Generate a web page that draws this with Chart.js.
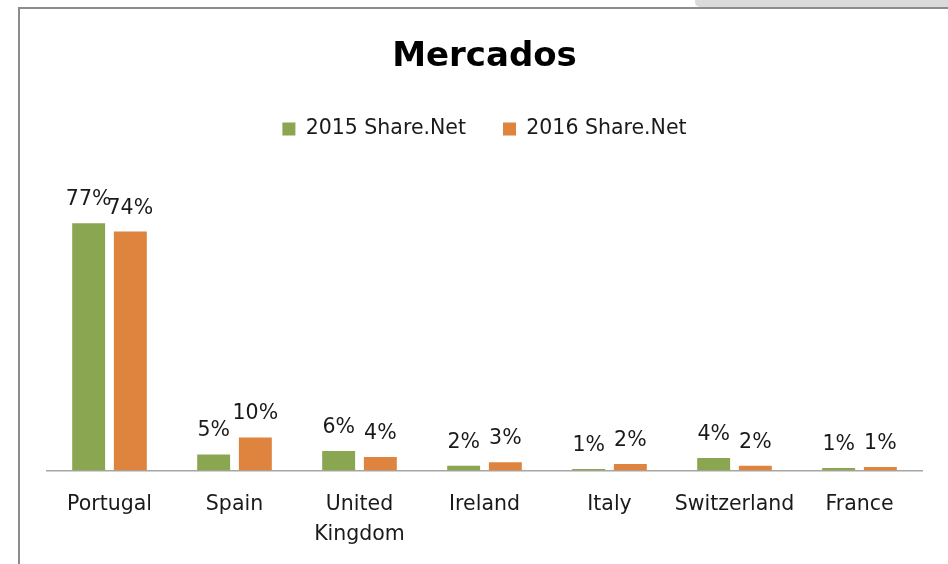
<!DOCTYPE html>
<html lang="pt">
<head>
  <meta charset="UTF-8" />
  <title>Mercados</title>
  <script src="https://cdn.jsdelivr.net/npm/chart.js"></script>
  <style>
    body { margin: 0; background: #fff; }
    #wrap { position: relative; width: 948px; height: 564px; overflow: hidden; }
    #tab { position: absolute; left: 695px; top: 0; width: 260px; height: 7px; background: #dadada; border-bottom-left-radius: 5px; }
    #frame { position: absolute; left: 18px; top: 7px; width: 960px; height: 600px; border-top: 2px solid #8c8c8c; border-left: 2px solid #8c8c8c; }
    canvas { position: absolute; left: 0; top: 0; }
  </style>
</head>
<body>
  <div id="wrap">
    <div id="tab"></div>
    <div id="frame"></div>
    <canvas id="chart" width="948" height="564"></canvas>
  </div>

  <script>
    const categories = ['Portugal', 'Spain', ['United', 'Kingdom'], 'Ireland', 'Italy', 'Switzerland', 'France'];
    const share2015 = [77.0, 5.0, 6.1, 1.5, 0.5, 3.9, 0.8];
    const share2016 = [74.4, 10.3, 4.2, 2.6, 2.0, 1.5, 1.1];
    const seriesNames = ['2015 Share.Net', '2016 Share.Net'];

    const fontFamily = "'DejaVu Sans', sans-serif";
    const textColor = '#1a1a1a';
    const tickPadding = 19.6;
    const tickLineHeight = 29.7;

    // percentage labels above each bar
    const barLabels = {
      id: 'barLabels',
      afterDatasetsDraw(chart) {
        const ctx = chart.ctx;
        ctx.save();
        ctx.font = `20.5px ${fontFamily}`;
        ctx.fillStyle = textColor;
        ctx.textAlign = 'center';
        ctx.textBaseline = 'alphabetic';
        chart.data.datasets.forEach((ds, i) => {
          chart.getDatasetMeta(i).data.forEach((bar, j) => {
            ctx.fillText(Math.round(ds.data[j]) + '%', bar.x, bar.y - 18);
          });
        });
        ctx.restore();
      }
    };

    new Chart(document.getElementById('chart'), {
      type: 'bar',
      data: {
        labels: categories,
        datasets: [
          { label: seriesNames[0], data: share2015, backgroundColor: '#8aa650' },
          { label: seriesNames[1], data: share2016, backgroundColor: '#de843e' }
        ]
      },
      options: {
        responsive: false,
        animation: false,
        layout: { padding: { left: 47, right: 26, top: 10, bottom: 14.5 } },
        datasets: {
          bar: { categoryPercentage: 0.667, barPercentage: 0.79 }
        },
        scales: {
          x: {
            grid: { display: false, drawTicks: false },
            border: { display: true, color: '#a6a6a6', width: 1.5 },
            ticks: {
              autoSkip: false,
              maxRotation: 0,
              minRotation: 0,
              padding: tickPadding,
              color: textColor,
              font: { family: fontFamily, size: 20.5, lineHeight: tickLineHeight / 20.5 }
            },
            // two label lines plus padding
            afterFit(scale) {
              scale.height = tickPadding + 2 * tickLineHeight;
            }
          },
          y: { display: false, min: 0, max: 100 }
        },
        plugins: {
          title: {
            display: true,
            text: 'Mercados',
            color: '#000',
            font: { family: fontFamily, size: 34, weight: 'bold', lineHeight: 1.2 },
            padding: { top: 27, bottom: 4 }
          },
          legend: {
            labels: {
              boxWidth: 13,
              boxHeight: 13,
              padding: 37,
              color: textColor,
              font: { family: fontFamily, size: 20.5 }
            }
          },
          tooltip: { enabled: false }
        }
      },
      plugins: [barLabels]
    });
  </script>
</body>
</html>
